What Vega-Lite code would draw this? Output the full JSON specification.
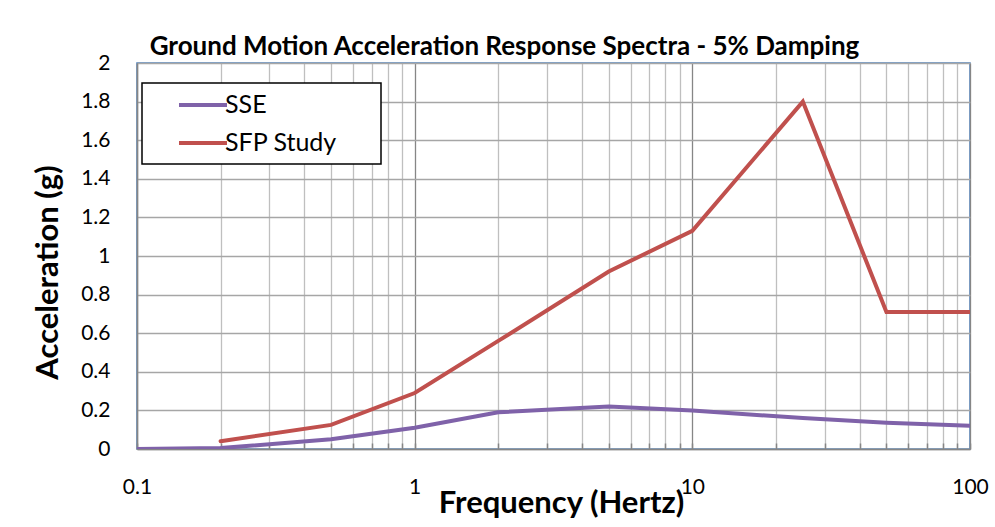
{
  "$schema": "https://vega.github.io/schema/vega-lite/v6.json",
  "width": 833,
  "height": 386,
  "autosize": {"type": "none"},
  "padding": {"left": 137, "top": 63, "right": 25, "bottom": 78},
  "background": "white",
  "title": {
    "text": "Ground Motion Acceleration Response Spectra - 5% Damping",
    "font": "Lato",
    "fontSize": 26,
    "fontWeight": "bold",
    "color": "#000000",
    "anchor": "middle",
    "dx": -49,
    "offset": -8
  },
  "data": {
    "values": [
      {"f": 0.1, "a": 0.0, "s": "SSE"},
      {"f": 0.2, "a": 0.005, "s": "SSE"},
      {"f": 0.5, "a": 0.05, "s": "SSE"},
      {"f": 1, "a": 0.11, "s": "SSE"},
      {"f": 2, "a": 0.19, "s": "SSE"},
      {"f": 5, "a": 0.22, "s": "SSE"},
      {"f": 10, "a": 0.2, "s": "SSE"},
      {"f": 25, "a": 0.16, "s": "SSE"},
      {"f": 50, "a": 0.136, "s": "SSE"},
      {"f": 100, "a": 0.12, "s": "SSE"},
      {"f": 0.2, "a": 0.04, "s": "SFP Study"},
      {"f": 0.5, "a": 0.125, "s": "SFP Study"},
      {"f": 1, "a": 0.29, "s": "SFP Study"},
      {"f": 2, "a": 0.56, "s": "SFP Study"},
      {"f": 5, "a": 0.92, "s": "SFP Study"},
      {"f": 10, "a": 1.13, "s": "SFP Study"},
      {"f": 25, "a": 1.8, "s": "SFP Study"},
      {"f": 50, "a": 0.71, "s": "SFP Study"},
      {"f": 100, "a": 0.71, "s": "SFP Study"}
    ]
  },
  "mark": {"type": "line", "strokeWidth": 4, "strokeCap": "round", "strokeJoin": "miter", "clip": true},
  "encoding": {
    "x": {
      "field": "f",
      "type": "quantitative",
      "scale": {"type": "log", "domain": [0.1, 100], "nice": false},
      "axis": {
        "title": "Frequency (Hertz)",
        "values": [0.1,0.2,0.3,0.4,0.5,0.6,0.7,0.8,0.9,1,2,3,4,5,6,7,8,9,10,20,30,40,50,60,70,80,90,100],
        "format": "~g",
        "labelExpr": "indexof([0.1,1,10,100], datum.value) >= 0 ? datum.label : ''",
        "labelFont": "Lato",
        "labelFontSize": 21,
        "labelColor": "#000000",
        "labelBaseline": "middle",
        "labelPadding": 44,
        "labelFlush": false,
        "labelOverlap": false,
        "ticks": true,
        "tickSize": -6,
        "tickColor": "#868686",
        "tickWidth": 1.5,
        "domainColor": "#868686",
        "domainWidth": 1.5,
        "grid": true,
        "gridColor": {"condition": {"test": "indexof([0.1,1,10,100], datum.value) >= 0", "value": "#868686"}, "value": "#BFBFBF"},
        "gridWidth": 1.3,
        "titleFont": "Lato",
        "titleFontSize": 31,
        "titleFontWeight": "bold",
        "titleColor": "#000000",
        "titleX": 424,
        "titleY": 54,
        "titleBaseline": "middle",
        "titleAlign": "center"
      }
    },
    "y": {
      "field": "a",
      "type": "quantitative",
      "scale": {"domain": [0, 2], "nice": false},
      "axis": {
        "title": "Acceleration (g)",
        "values": [0,0.2,0.4,0.6,0.8,1,1.2,1.4,1.6,1.8,2],
        "format": "~g",
        "labelFont": "Lato",
        "labelFontSize": 21,
        "labelColor": "#000000",
        "labelPadding": 27,
        "labelFlush": false,
        "labelOverlap": false,
        "ticks": false,
        "tickSize": 0,
        "domainColor": "#868686",
        "domainWidth": 1.5,
        "grid": true,
        "gridColor": "#A6A6A6",
        "gridWidth": 1.5,
        "titleFont": "Lato",
        "titleFontSize": 31,
        "titleFontWeight": "bold",
        "titleColor": "#000000",
        "titleAngle": -90,
        "titleX": -89,
        "titleY": 209,
        "titleBaseline": "middle",
        "titleAlign": "center"
      }
    },
    "color": {
      "field": "s",
      "type": "nominal",
      "scale": {"domain": ["SSE", "SFP Study"], "range": ["#7F62A9", "#C0504D"]},
      "legend": {
        "title": null,
        "orient": "none",
        "legendX": 5,
        "legendY": 20,
        "symbolType": "M-2,0H2",
        "symbolSize": 576,
        "symbolStrokeWidth": 4,
        "symbolOffset": 39,
        "labelFont": "Lato",
        "labelFontSize": 25,
        "labelColor": "#000000",
        "labelOffset": 8,
        "labelExpr": "datum.label + '\u2800\u2800'",
        "rowPadding": 11,
        "padding": 8,
        "strokeColor": "#000000",
        "fillColor": "#FFFFFF"
      }
    }
  },
  "config": {
    "view": {"stroke": "#4F81BD", "strokeWidth": 1.5},
    "legend": {"strokeWidth": 1.5}
  }
}
